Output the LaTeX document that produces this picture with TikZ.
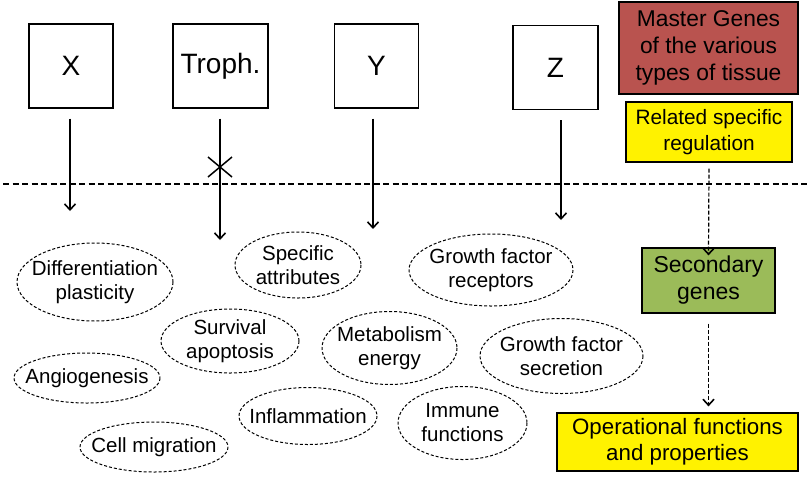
\documentclass[tikz,border=0pt]{standalone}
\usepackage{fontspec}
\setmainfont{Liberation Sans}
\usetikzlibrary{arrows.meta}
\definecolor{masterred}{RGB}{185,83,79}
\definecolor{secgreen}{RGB}{155,187,89}
\tikzset{
  genebox/.style={draw,line width=1.2pt,align=center,inner sep=0pt},
  trait/.style={align=center,font=\fontsize{20.5}{24}\selectfont},
  oval/.style={line width=1pt,dash pattern=on 3pt off 2pt},
  arr/.style={line width=1.2pt,-{Straight Barb[length=6pt,width=11pt,line width=1.6pt]}},
  darr/.style={arr,dash pattern=on 4pt off 2pt}
}
\begin{document}
\begin{tikzpicture}[x=1pt,y=-1pt]
  \useasboundingbox (0,0) rectangle (810,480);
  \node[genebox,minimum width=84pt,minimum height=84pt,font=\fontsize{28}{30}\selectfont] (X) at (71,66) {X};
  \node[genebox,minimum width=95pt,minimum height=84pt,font=\fontsize{28}{30}\selectfont] (troph) at (220.5,66) {Troph.};
  \node[genebox,minimum width=84pt,minimum height=84pt,font=\fontsize{28}{30}\selectfont] (Y) at (376.5,66) {Y};
  \node[genebox,minimum width=85pt,minimum height=84pt,font=\fontsize{28}{30}\selectfont] (Z) at (555.5,67.5) {Z};
  \node[genebox,fill=masterred,minimum width=179pt,minimum height=92pt,font=\fontsize{22.8}{27}\selectfont] (master) at (708.5,48) {Master Genes\\of the various\\types of tissue};
  \node[genebox,fill=yellow,minimum width=166pt,minimum height=60pt,font=\fontsize{20.8}{26}\selectfont] (rel) at (709,132) {Related specific\\regulation};
  \node[genebox,fill=secgreen,minimum width=133pt,minimum height=65pt,font=\fontsize{23}{27}\selectfont] (sec) at (708.5,280.5) {Secondary\\genes};
  \node[genebox,fill=yellow,minimum width=241pt,minimum height=58pt,font=\fontsize{22.3}{26}\selectfont] (op) at (677.5,442) {Operational functions\\and properties};

  \draw[line width=1.3pt,dash pattern=on 6pt off 3.5pt] (3,184) -- (810,184);

  \coordinate (xend) at (70,211);
  \coordinate (tend) at (220,240);
  \coordinate (yend) at (373,229);
  \coordinate (zend) at (561,220);
  \coordinate (cross) at (220,167);
  \draw[arr] ([xshift=-1pt,yshift=-10pt]X.south) -- (xend);
  \draw[arr] ([xshift=-0.5pt,yshift=-10pt]troph.south) -- (tend);
  \draw[arr] ([xshift=-3.5pt,yshift=-10pt]Y.south) -- (yend);
  \draw[arr] ([xshift=5.5pt,yshift=-10pt]Z.south) -- (zend);
  \draw[line width=1.5pt] (cross) +(-12,-10) -- +(12,10) (cross) +(-12,10) -- +(12,-10);
  \draw[darr] ([yshift=-6pt]rel.south) -- ([yshift=-8pt]sec.north);
  \draw[darr] ([yshift=-10pt]sec.south) -- ([yshift=6pt]sec.south |- op.north);

  \node[trait] (diff) at (95,282) {Differentiation\\plasticity};
  \draw[oval] (diff.center) ellipse [x radius=78,y radius=39];
  \node[trait] (spec) at (298,265) {Specific\\attributes};
  \draw[oval] (spec.center) ellipse [x radius=63,y radius=33];
  \node[trait] (surv) at (230,341) {Survival\\apoptosis};
  \draw[oval] (surv.center) ellipse [x radius=69,y radius=32];
  \node[trait] (angio) at (87,378) {Angiogenesis};
  \draw[oval] (angio.center) ellipse [x radius=73,y radius=25];
  \node[trait] (cellmig) at (154,447) {Cell migration};
  \draw[oval] (cellmig.center) ellipse [x radius=74,y radius=25];
  \node[trait] (infl) at (308,416) {Inflammation};
  \draw[oval] (infl.center) ellipse [x radius=69,y radius=28.5];
  \node[trait] (metab) at (389.5,348) {Metabolism\\energy};
  \draw[oval] (metab.center) ellipse [x radius=67.5,y radius=36.5];
  \node[trait] (gfrec) at (491,270) {Growth factor\\receptors};
  \draw[oval] (gfrec.center) ellipse [x radius=82,y radius=36];
  \node[trait] (gfsec) at (561.5,356) {Growth factor\\secretion};
  \draw[oval] (gfsec.center) ellipse [x radius=81.5,y radius=37.5];
  \node[trait] (immune) at (462.5,423) {Immune\\functions};
  \draw[oval] (immune.center) ellipse [x radius=64.5,y radius=36.5];
\end{tikzpicture}
\end{document}
